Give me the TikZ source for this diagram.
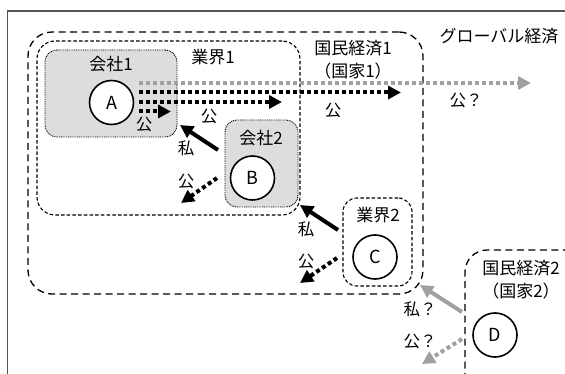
\documentclass[tikz,border=0pt]{standalone}
\usepackage{fontspec}
\setmainfont{Noto Sans CJK JP}
\usetikzlibrary{arrows.meta,calc}
\definecolor{boxfill}{HTML}{DDDDDD}
\definecolor{arrgray}{HTML}{A0A0A0}
\definecolor{framegray}{HTML}{555555}
\begin{document}
\begin{tikzpicture}[x=1pt,y=-1pt,
  natbox/.style={draw, line width=1.3pt, dash pattern=on 7pt off 4.5pt, rounded corners=24pt, inner sep=0pt},
  indbox/.style={draw, line width=1.1pt, dash pattern=on 3.5pt off 2.2pt, rounded corners=18pt, inner sep=0pt},
  combox/.style={draw, fill=boxfill, line width=0.9pt, dash pattern=on 0.9pt off 0.9pt, rounded corners=12pt, inner sep=0pt},
  agent/.style={draw, circle, fill=white, line width=1.6pt, minimum size=44pt, inner sep=0pt, font=\fontsize{18}{18}\selectfont},
  blabel/.style={inner sep=0pt, font=\fontsize{17}{20}\selectfont},
  alabel/.style={inner sep=0pt, font=\fontsize{16.5}{17}\selectfont},
  tip/.style={-{Triangle[length=13pt,width=13pt]}},
  pubarrow/.style={tip, line width=4pt, dash pattern=on 4pt off 3pt},
  privarrow/.style={tip, line width=4pt},
]
\useasboundingbox (0,0) rectangle (565,374);
% outer frame
\draw[framegray, line width=1.2pt] (565,11) coordinate (fr1) -- (7.5,11) coordinate (fr2) -- (7.5,374) coordinate (fr3);
\node[blabel] (glob) at (499,36) {グローバル経済};
% national economy 1
\node[natbox, minimum width=395pt, minimum height=262pt] (ne1) at (225.5,163) {};
\node[blabel] (ne1l) at (353,48) {国民経済1};
\node[blabel] (ne1m) at (353,71) {（国家1）};
% industry 1
\node[indbox, minimum width=263pt, minimum height=174pt] (ind1) at (168.5,128) {};
\node[blabel] (ind1l) at (213,57) {業界1};
% company 1
\node[combox, minimum width=132pt, minimum height=87pt] (co1) at (111,93.5) {};
\node[blabel] (co1l) at (111,64) {会社1};
% company 2
\node[combox, minimum width=73pt, minimum height=87pt] (co2) at (261.5,163.5) {};
\node[blabel] (co2l) at (261,138) {会社2};
% industry 2
\node[indbox, rounded corners=14pt, minimum width=69pt, minimum height=88pt] (ind2) at (377.5,242) {};
\node[blabel] (ind2l) at (378,215) {業界2};
% national economy 2
\draw[line width=1.3pt, dash pattern=on 7pt off 4.5pt, rounded corners=22pt] (465,380) coordinate (ne2a) -- (465,250) -- (570,250) coordinate (ne2b);
\node[blabel] (ne2l) at (521,268) {国民経済2};
\node[blabel] (ne2m) at (521,291) {（国家2）};
% agents
\node[agent] (A) at (111.5,102.5) {A};
\node[agent] (B) at (252.5,178) {B};
\node[agent] (C) at (375,257) {C};
\node[agent] (D) at (495,335) {D};
% arrows from A
\coordinate (g1) at (531,83);
\coordinate (g2) at (401,92.5);
\coordinate (g3) at (282,102);
\coordinate (g4) at (171,111.5);
\draw[pubarrow, arrgray] ([xshift=4.5pt,yshift=19.5pt]A.east) -- (g1);
\draw[pubarrow] ([xshift=4.5pt,yshift=10pt]A.east) -- (g2);
\draw[pubarrow] ([xshift=4.5pt,yshift=0.5pt]A.east) -- (g3);
\draw[pubarrow] ([xshift=4.5pt,yshift=-9pt]A.east) -- (g4);
\node[alabel] (l1) at (144,125) {公};
\node[alabel] (l2) at (209,117) {公};
\node[alabel] (l3) at (333,111) {公};
\node[alabel] (l4) at (466,101) {公？};
% arrows from B
\coordinate (b1s) at (218,150);
\coordinate (b1e) at (180,125);
\coordinate (b2s) at (217,178);
\coordinate (b2e) at (181,203);
\draw[privarrow] (b1s) -- (b1e);
\draw[pubarrow] (b2s) -- (b2e);
\node[alabel] (l5) at (186,148) {私};
\node[alabel] (l6) at (186,182) {公};
% arrows from C
\coordinate (c1s) at (338,230);
\coordinate (c1e) at (300,205);
\coordinate (c2s) at (337,258);
\coordinate (c2e) at (300,283);
\draw[privarrow] (c1s) -- (c1e);
\draw[pubarrow] (c2s) -- (c2e);
\node[alabel] (l7) at (306,229) {私};
\node[alabel] (l8) at (306,262) {公};
% arrows from D
\coordinate (d1s) at (462,312);
\coordinate (d1e) at (420,285);
\coordinate (d2s) at (462,339);
\coordinate (d2e) at (422,364);
\draw[privarrow, arrgray] (d1s) -- (d1e);
\draw[pubarrow, arrgray] (d2s) -- (d2e);
\node[alabel] (l9) at (420,309) {私？};
\node[alabel] (l10) at (420,342) {公？};
\end{tikzpicture}
\end{document}
